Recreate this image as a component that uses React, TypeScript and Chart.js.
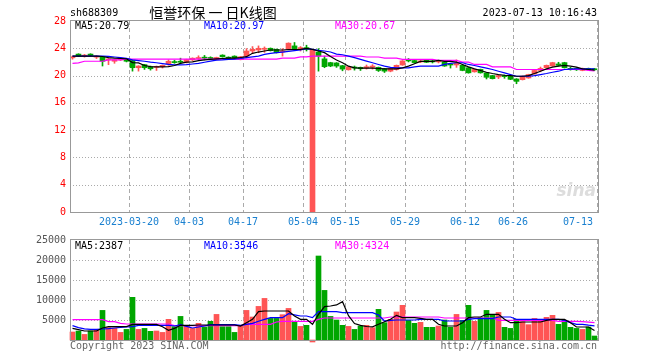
import React, { useEffect, useRef } from 'react';
import { Chart, registerables } from 'chart.js';

Chart.register(...registerables);

// ---------- data ----------
const stockCode = 'sh688309';
const titleText = '恒誉环保 一 日K线图';
const timeStamp = '2023-07-13 10:16:43';

// date tick labels and the bar index (0-based, first bar 2023-03-07) each belongs to
const dateTickIndex = [9, 19, 28, 38, 45, 55, 65, 73, 87];
const dateTickLabels = ['2023-03-20', '04-03', '04-17', '05-04', '05-15', '05-29', '06-12', '06-26', '07-13'];

const priceTicks = [0, 4, 8, 12, 16, 20, 24, 28];
const volumeTicks = [5000, 10000, 15000, 20000, 25000];

const open = [22.6, 23.15, 22.85, 23.15, 22.7, 22.7, 22.3, 22.1, 22.3, 22.45,
  22.2, 21.15, 21.6, 21.3, 21.2, 21.3, 21.7, 22.05, 22.1, 21.95,
  22.3, 22.5, 22.7, 22.65, 22.4, 23.0, 22.7, 22.85, 22.35, 22.85,
  23.6, 23.75, 23.85, 24.0, 23.85, 23.45, 23.85, 24.35, 23.85, 24.1,
  0, 23.45, 22.45, 21.9, 21.85, 21.45, 20.85, 21.25, 21.2, 21.1,
  21.2, 21.2, 21.0, 20.65, 20.9, 21.55, 22.35, 22.2, 22.0, 22.25,
  22.15, 22.0, 22.0, 21.7, 21.55, 21.5, 21.15, 20.55, 20.9, 20.4,
  20.0, 19.8, 20.0, 19.9, 19.5, 19.4, 19.65, 20.25, 20.75, 21.15,
  21.4, 21.7, 21.9, 21.05, 21.05, 20.75, 21.05, 21.0];

const close = [22.75, 22.85, 23.0, 22.95, 22.85, 22.1, 22.45, 22.35, 22.55, 22.1,
  21.15, 21.4, 21.15, 21.0, 21.35, 21.5, 22.1, 21.9, 21.95, 22.35,
  22.55, 22.6, 22.55, 22.5, 22.65, 22.75, 22.5, 22.55, 22.75, 23.6,
  23.85, 24.0, 24.0, 23.65, 23.35, 23.6, 24.75, 23.95, 24.1, 23.85,
  23.85, 22.85, 21.3, 21.4, 21.4, 20.95, 21.3, 21.1, 21.0, 21.3,
  21.4, 20.75, 20.65, 21.1, 21.5, 22.15, 22.15, 21.9, 22.15, 21.95,
  22.0, 22.1, 21.4, 21.55, 21.8, 20.75, 20.4, 20.9, 20.4, 19.75,
  19.55, 20.0, 19.85, 19.45, 19.15, 19.9, 20.15, 20.75, 21.05, 21.5,
  21.9, 21.5, 21.15, 20.9, 20.85, 21.05, 20.85, 20.85];

const high = [22.85, 23.2, 23.1, 23.2, 22.9, 22.75, 22.5, 22.4, 22.6, 22.5,
  22.3, 21.45, 21.65, 21.4, 21.4, 21.55, 22.3, 22.25, 22.55, 22.4,
  22.6, 22.9, 22.95, 22.75, 22.7, 23.05, 22.75, 22.9, 22.8, 23.95,
  24.25, 24.35, 24.2, 24.05, 23.9, 23.95, 24.8, 24.85, 24.25, 24.45,
  23.85, 23.95, 22.85, 21.95, 21.9, 21.5, 21.35, 21.4, 21.25, 21.55,
  21.6, 21.25, 21.05, 21.15, 21.55, 22.2, 22.5, 22.25, 22.3, 22.3,
  22.3, 22.25, 22.05, 21.8, 22.3, 21.55, 21.2, 20.95, 20.95, 20.45,
  20.05, 20.1, 20.1, 19.95, 19.55, 19.95, 20.2, 20.8, 21.25, 21.55,
  21.95, 21.95, 21.95, 21.2, 21.15, 21.1, 21.1, 21.05];

const low = [22.4, 22.8, 22.7, 22.9, 22.5, 21.4, 21.6, 21.8, 22.2, 22.0,
  20.65, 20.65, 20.9, 20.8, 20.75, 21.1, 21.5, 21.8, 21.8, 21.85,
  22.2, 22.3, 22.3, 22.4, 22.3, 22.7, 22.45, 22.5, 22.3, 22.6,
  23.25, 23.35, 23.4, 23.6, 23.3, 22.85, 23.8, 23.75, 23.6, 23.6,
  0, 20.65, 21.15, 21.3, 21.2, 20.7, 20.8, 20.8, 20.75, 20.95,
  20.95, 20.6, 20.45, 20.55, 20.8, 21.5, 22.0, 21.85, 21.9, 21.9,
  21.85, 21.85, 21.35, 21.1, 21.2, 20.7, 20.35, 20.5, 20.35, 19.5,
  19.5, 19.55, 19.6, 19.4, 18.8, 19.35, 19.6, 20.2, 20.55, 21.1,
  21.35, 21.4, 21.1, 20.8, 20.75, 20.7, 20.8, 20.75];

const volume = [2000, 2250, 1400, 2250, 2650, 7400, 3100, 3000, 1900, 2650,
  10670, 2650, 2900, 2170, 2250, 1900, 5170, 3330, 5900, 3670,
  2900, 4170, 3250, 4670, 6400, 3330, 3330, 1900, 3670, 7400,
  5750, 8400, 10400, 5400, 5400, 6330, 7900, 4500, 3400, 3670,
  -500, 21000, 12400, 5900, 5000, 3670, 3400, 2650, 3500, 3670,
  3080, 7670, 4330, 5170, 7000, 8670, 4900, 4170, 4420, 3170,
  3170, 3500, 5000, 3170, 6400, 4900, 8670, 4670, 5580, 7400,
  6400, 6900, 3170, 2900, 5170, 4580, 3830, 5400, 4670, 5670,
  6170, 3920, 4830, 3170, 2900, 2650, 3250, 1000];

const ma5 = [22.86, 22.86, 22.86, 22.86, 22.86, 22.8, 22.62, 22.55, 22.5, 22.45,
  21.9, 21.85, 21.48, 21.3, 21.28, 21.28, 21.3, 21.48, 21.78, 21.98,
  22.0, 22.2, 22.3, 22.37, 22.45, 22.5, 22.55, 22.57, 22.65, 22.77,
  23.26, 23.45, 23.6, 23.75, 23.75, 23.75, 23.8, 23.82, 23.85, 24.0,
  23.85, 23.6, 23.36, 22.8, 22.27, 21.88, 21.38, 21.14, 21.09, 21.09,
  21.09, 21.04, 20.99, 20.99, 20.99, 21.14, 21.38, 21.73, 22.07, 22.07,
  22.07, 22.22, 22.07, 22.07, 21.98, 21.63, 21.28, 20.99, 20.74, 20.49,
  20.3, 20.15, 20.05, 20.0, 19.9, 19.9, 20.0, 20.3, 20.64, 20.99,
  21.23, 21.38, 21.48, 21.38, 21.23, 20.99, 20.89, 20.79];

const ma10 = [22.86, 22.86, 22.86, 22.86, 22.86, 22.86, 22.8, 22.72, 22.62, 22.52,
  22.3, 22.2, 22.1, 21.98, 21.88, 21.75, 21.63, 21.58, 21.58, 21.6,
  21.7, 21.8, 21.95, 22.12, 22.27, 22.3, 22.37, 22.42, 22.5, 22.62,
  22.75, 22.86, 23.1, 23.25, 23.36, 23.45, 23.55, 23.65, 23.75, 23.95,
  23.85, 23.7, 23.6, 23.46, 23.15, 23.05, 22.86, 22.62, 22.37, 22.12,
  21.88, 21.63, 21.38, 21.2, 21.14, 21.14, 21.14, 21.28, 21.38, 21.38,
  21.38, 21.38, 21.63, 21.8, 21.88, 21.88, 21.63, 21.48, 21.28, 21.09,
  20.89, 20.64, 20.4, 20.15, 19.9, 19.9, 19.9, 20.0, 20.15, 20.3,
  20.49, 20.64, 20.89, 20.95, 20.99, 20.99, 20.97, 20.97];

const ma30 = [21.8, 21.85, 22.1, 22.1, 22.1, 22.1, 22.3, 22.3, 22.3, 22.4,
  22.4, 22.4, 22.4, 22.4, 22.4, 22.4, 22.4, 22.4, 22.4, 22.4,
  22.4, 22.4, 22.4, 22.4, 22.4, 22.4, 22.4, 22.4, 22.4, 22.4,
  22.4, 22.4, 22.4, 22.4, 22.4, 22.55, 22.55, 22.55, 22.75, 22.75,
  22.85, 22.85, 22.85, 22.85, 22.85, 22.85, 22.85, 22.85, 22.85, 22.72,
  22.72, 22.72, 22.57, 22.57, 22.57, 22.37, 22.37, 22.37, 22.37, 22.37,
  22.37, 22.22, 22.22, 22.22, 22.22, 21.98, 21.98, 21.63, 21.63, 21.63,
  21.28, 21.28, 21.28, 21.28, 20.89, 20.89, 20.89, 20.89, 20.89, 20.89,
  20.89, 20.89, 20.89, 20.89, 20.89, 20.89, 20.75, 20.67];

const volMa5 = [2920, 2580, 2250, 2250, 2250, 3000, 3330, 3330, 3330, 3330,
  3920, 3920, 3920, 3920, 3920, 3330, 2420, 2920, 3670, 3670,
  3670, 3750, 3750, 3750, 3750, 3750, 3750, 3750, 3500, 4330,
  5170, 7080, 7250, 7250, 7250, 7250, 7250, 6000, 5170, 5170,
  3920, 6420, 8330, 8500, 8760, 9590, 6070, 4120, 3640, 3380,
  3300, 3920, 4580, 5170, 6170, 5580, 5580, 5580, 5400, 5170,
  5170, 3920, 3500, 3500, 3500, 4330, 5580, 5750, 5750, 6420,
  6420, 6420, 5170, 4330, 4330, 4500, 4500, 4500, 4500, 4920,
  5170, 5170, 5170, 4330, 3250, 3250, 3250, 2387];

const volMa10 = [3580, 3100, 2800, 2670, 2670, 2750, 2830, 3000, 3170, 3250,
  3330, 3670, 3670, 3670, 3670, 3670, 3670, 3500, 3830, 3400,
  3000, 3250, 3500, 3830, 3830, 3830, 3830, 3830, 3670, 3900,
  4170, 4700, 5170, 5580, 5580, 5580, 6580, 6300, 6000, 6000,
  5580, 7080, 7080, 7080, 7080, 6830, 6830, 6830, 6830, 6830,
  6830, 6250, 4750, 4920, 5000, 5000, 5000, 5000, 5170, 5170,
  5170, 5170, 4750, 4750, 4750, 4750, 5170, 5330, 5330, 5330,
  5330, 5750, 5750, 5750, 5170, 5170, 5170, 5170, 5170, 5170,
  5170, 5170, 4920, 4330, 3920, 3920, 3700, 3546];

const volMa30 = [5080, 5080, 5080, 5080, 5080, 5080, 4580, 4580, 4170, 4000,
  4000, 4000, 4000, 4000, 4000, 4000, 4000, 3600, 3600, 3600,
  3600, 3600, 3600, 3600, 3600, 3600, 3600, 3600, 3600, 3900,
  3900, 3900, 3900, 3900, 4500, 4670, 4670, 4670, 4670, 4670,
  4670, 5170, 5500, 5500, 5500, 5500, 5500, 5500, 5500, 5500,
  5500, 5500, 5500, 5750, 5750, 5750, 5750, 5750, 5750, 5750,
  5750, 5750, 5500, 5500, 5500, 5500, 5500, 5500, 5500, 5500,
  5500, 4920, 4920, 4920, 4920, 4920, 4920, 4920, 4920, 4920,
  4920, 4670, 4670, 4670, 4670, 4600, 4450, 4324];

const priceLegend = ['MA5:20.79', 'MA10:20.97', 'MA30:20.67'];
const volumeLegend = ['MA5:2387', 'MA10:3546', 'MA30:4324'];

// ---------- styles ----------
const UP = '#ff5555';
const DOWN = '#00a600';
const MA_COLORS = ['#000000', '#0000ff', '#ff00ff'];
const MONO = '10px "DejaVu Sans Mono", monospace';
const X_MIN = -2.5 / 6;
const X_MAX = X_MIN + 88;

const barColors = open.map((o, i) => (close[i] >= o ? UP : DOWN));

function lineSet(label: string, values: number[], color: string) {
  return {
    type: 'line' as const,
    label,
    data: values.map((v, i) => ({ x: i, y: v })),
    borderColor: color,
    borderWidth: 1.2,
    pointRadius: 0,
    fill: false,
    tension: 0,
    order: 0,
  };
}

function drawGrid(chart: any, hTicks: number[]) {
  const { ctx, chartArea: a, scales } = chart;
  ctx.save();
  ctx.strokeStyle = '#aaaaaa';
  ctx.lineWidth = 1;
  ctx.setLineDash([1, 2]);
  hTicks.forEach((v) => {
    const y = Math.round(scales.y.getPixelForValue(v)) + 0.5;
    ctx.beginPath();
    ctx.moveTo(a.left, y);
    ctx.lineTo(a.right, y);
    ctx.stroke();
  });
  ctx.setLineDash([4, 3]);
  dateTickIndex.forEach((idx) => {
    const x = Math.floor(scales.x.getPixelForValue(idx + 0.5)) + 0.5;
    ctx.beginPath();
    ctx.moveTo(x, a.top);
    ctx.lineTo(x, a.bottom);
    ctx.stroke();
  });
  ctx.restore();
}

function drawFrame(chart: any) {
  const { ctx, chartArea: a } = chart;
  ctx.save();
  ctx.setLineDash([]);
  ctx.strokeStyle = '#999999';
  ctx.lineWidth = 1;
  ctx.strokeRect(Math.round(a.left) + 0.5, Math.round(a.top) - 0.5,
    Math.round(a.right) - Math.round(a.left), Math.round(a.bottom) - Math.round(a.top) + 1);
  ctx.restore();
}

function drawLegend(ctx: CanvasRenderingContext2D, texts: string[], y: number) {
  const xs = [75, 204, 335];
  ctx.font = MONO;
  ctx.textAlign = 'left';
  ctx.textBaseline = 'middle';
  texts.forEach((t, i) => {
    ctx.fillStyle = MA_COLORS[i];
    ctx.fillText(t, xs[i], y);
  });
}

const priceDecor = {
  id: 'priceDecor',
  beforeDatasetsDraw(chart: any) {
    const { ctx } = chart;
    ctx.save();
    ctx.font = 'italic bold 17px "DejaVu Sans", sans-serif';
    ctx.fillStyle = '#dddddd';
    ctx.textAlign = 'right';
    ctx.textBaseline = 'middle';
    ctx.fillText('sina', 596, 192);
    ctx.restore();
    drawGrid(chart, priceTicks.filter((v) => v > 0 && v < 28));
  },
  afterDraw(chart: any) {
    const { ctx, chartArea: a, scales } = chart;
    drawFrame(chart);
    ctx.save();
    ctx.font = MONO;
    ctx.fillStyle = '#ff0000';
    ctx.textAlign = 'right';
    ctx.textBaseline = 'middle';
    priceTicks.forEach((v) => {
      ctx.fillText(String(v), a.left - 4, scales.y.getPixelForValue(v));
    });
    ctx.fillStyle = '#1a80d0';
    ctx.textAlign = 'left';
    dateTickIndex.forEach((idx, k) => {
      const gx = Math.floor(scales.x.getPixelForValue(idx + 0.5));
      const w = ctx.measureText(dateTickLabels[k]).width;
      let left = gx - w / 2;
      if (left + w > a.right - 5) left = a.right - 5 - w;
      ctx.fillText(dateTickLabels[k], left, a.bottom + 10);
    });
    ctx.fillStyle = '#000000';
    ctx.textAlign = 'left';
    ctx.fillText(stockCode, 70, 13);
    ctx.textAlign = 'right';
    ctx.fillText(timeStamp, 597, 13);
    ctx.textAlign = 'center';
    ctx.font = '14px "Noto Sans CJK SC", sans-serif';
    ctx.fillText(titleText, 213, 13);
    drawLegend(ctx, priceLegend, 26);
    ctx.restore();
  },
};

const volumeDecor = {
  id: 'volumeDecor',
  beforeDatasetsDraw(chart: any) {
    drawGrid(chart, volumeTicks.filter((v) => v < 25000));
  },
  afterDraw(chart: any) {
    const { ctx, chartArea: a, scales } = chart;
    drawFrame(chart);
    ctx.save();
    ctx.font = MONO;
    ctx.fillStyle = '#555555';
    ctx.textAlign = 'right';
    ctx.textBaseline = 'middle';
    volumeTicks.forEach((v) => {
      ctx.fillText(String(v), a.left - 4, scales.y.getPixelForValue(v));
    });
    drawLegend(ctx, volumeLegend, a.top + 6);
    ctx.fillStyle = '#666666';
    ctx.textAlign = 'left';
    ctx.fillText('Copyright 2023 SINA.COM', 70, a.bottom + 6);
    ctx.textAlign = 'right';
    ctx.fillText('http://finance.sina.com.cn', 597, a.bottom + 6);
    ctx.restore();
  },
};

export default function App() {
  const priceRef = useRef<HTMLCanvasElement>(null);
  const volRef = useRef<HTMLCanvasElement>(null);

  useEffect(() => {
    const priceChart = new Chart(priceRef.current as HTMLCanvasElement, {
      type: 'bar',
      data: {
        datasets: [
          lineSet('MA5', ma5, MA_COLORS[0]),
          lineSet('MA10', ma10, MA_COLORS[1]),
          lineSet('MA30', ma30, MA_COLORS[2]),
          {
            type: 'bar',
            label: 'body',
            data: open.map((o, i) => ({ x: i, y: [o, close[i]] })),
            backgroundColor: barColors,
            barThickness: 5,
            grouped: false,
            minBarLength: 1,
            order: 1,
          },
          {
            type: 'bar',
            label: 'wick',
            data: low.map((l, i) => ({ x: i, y: [l, high[i]] })),
            backgroundColor: barColors,
            barThickness: 1,
            grouped: false,
            order: 2,
          },
        ] as any,
      },
      options: {
        animation: false,
        responsive: false,
        maintainAspectRatio: false,
        layout: { padding: { left: 70, right: 62, top: 21, bottom: 20 } },
        plugins: { legend: { display: false }, tooltip: { enabled: false } },
        scales: {
          x: { type: 'linear', min: X_MIN, max: X_MAX, offset: false, display: false },
          y: { type: 'linear', min: 0, max: 28, display: false },
        },
      } as any,
      plugins: [priceDecor],
    });

    const volumeChart = new Chart(volRef.current as HTMLCanvasElement, {
      type: 'bar',
      data: {
        datasets: [
          lineSet('MA5', volMa5, MA_COLORS[0]),
          lineSet('MA10', volMa10, MA_COLORS[1]),
          lineSet('MA30', volMa30, MA_COLORS[2]),
          {
            type: 'bar',
            label: 'volume',
            data: volume.map((v, i) => ({ x: i, y: v })),
            backgroundColor: barColors,
            barThickness: 5,
            grouped: false,
            clip: false,
            order: 1,
          },
        ] as any,
      },
      options: {
        animation: false,
        responsive: false,
        maintainAspectRatio: false,
        layout: { padding: { left: 70, right: 62, top: 8, bottom: 20 } },
        plugins: { legend: { display: false }, tooltip: { enabled: false } },
        scales: {
          x: { type: 'linear', min: X_MIN, max: X_MAX, offset: false, display: false },
          y: { type: 'linear', min: 0, max: 25000, display: false },
        },
      } as any,
      plugins: [volumeDecor],
    });

    return () => {
      priceChart.destroy();
      volumeChart.destroy();
    };
  }, []);

  return (
    <div style={{ position: 'absolute', left: 0, top: 0, width: 660, height: 360, background: '#ffffff' }}>
      <canvas ref={priceRef} width={660} height={232}
        style={{ position: 'absolute', left: 0, top: 0, width: 660, height: 232 }} />
      <canvas ref={volRef} width={660} height={128}
        style={{ position: 'absolute', left: 0, top: 232, width: 660, height: 128 }} />
    </div>
  );
}
